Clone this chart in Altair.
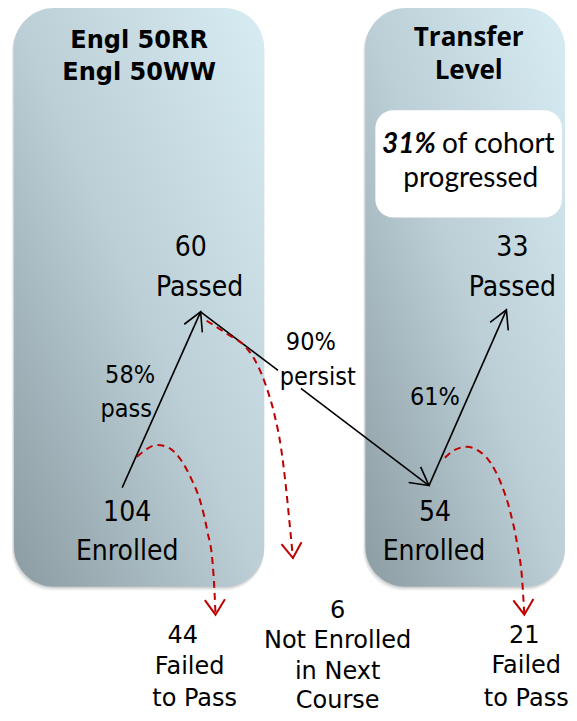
import math
import altair as alt
import pandas as pd

# ---------------- data (diagram coordinates, image pixels) ----------------
panel_x1 = [14, 368]
panel_x2 = [266, 569]
panel_y1 = [7, 7]
panel_y2 = [590, 590]

note_box = {"x1": [378], "x2": [566], "y1": [110], "y2": [218]}

title_a_text = ["Engl 50RR", "Engl 50WW"]
title_a_x = [140, 140]
title_a_y = [47, 80]

title_b_text = ["Transfer", "Level"]
title_b_x = [472, 472]
title_b_y = [45, 78]

# counts inside the panels
node_text = ["60", "Passed", "33", "Passed", "104", "Enrolled", "54", "Enrolled"]
node_x = [192, 201, 516, 516, 128, 128, 438, 437]
node_y = [257, 297, 257, 297, 524, 563, 524, 563]

# rates along the arrows
rate_text = ["58%", "pass", "90%", "persist", "61%"]
rate_x = [131, 127, 313, 320, 438]
rate_y = [385, 419, 351, 387, 407]

# drop-off counts below the panels
drop_text = ["44", "Failed", "to Pass", "6", "Not Enrolled", "in Next", "Course",
             "21", "Failed", "to Pass"]
drop_x = [184, 191, 196, 340, 340, 340, 340, 528, 530, 530]
drop_y = [647, 678, 710, 621, 652, 683, 712, 647, 677, 710]

# black flow arrows (segments; persist arrow is broken by its label)
seg_x1 = [123, 202, 303, 432]
seg_y1 = [490, 313, 390, 488]
seg_x2 = [202, 280, 432, 510]
seg_y2 = [313, 372, 488, 311]
head_from = [(123, 490), (202, 313), (432, 488)]
head_tip = [(202, 313), (432, 488), (510, 311)]

# red dashed drop-off curves
curve_left_x = [138, 148, 158, 170, 182, 193, 202, 209, 214, 216, 217]
curve_left_y = [459, 451, 447, 450, 462, 482, 505, 535, 565, 595, 618]
curve_mid_x = [208, 230, 247, 258, 268, 276, 283, 288, 292, 295]
curve_mid_y = [322, 336, 348, 364, 388, 415, 450, 490, 530, 561]
curve_right_x = [448, 458, 470, 482, 494, 505, 514, 521, 526, 528]
curve_right_y = [460, 452, 449, 453, 465, 487, 515, 548, 585, 618]

# ---------------- tables ----------------
panels = pd.DataFrame({"x1": panel_x1, "x2": panel_x2, "y1": panel_y1, "y2": panel_y2})
box = pd.DataFrame(note_box)
title_a = pd.DataFrame({"t": title_a_text, "x": title_a_x, "y": title_a_y})
title_b = pd.DataFrame({"t": title_b_text, "x": title_b_x, "y": title_b_y})
nodes = pd.DataFrame({"t": node_text, "x": node_x, "y": node_y})
rates = pd.DataFrame({"t": rate_text, "x": rate_x, "y": rate_y})
drops = pd.DataFrame({"t": drop_text, "x": drop_x, "y": drop_y})
segs = pd.DataFrame({"x1": seg_x1, "y1": seg_y1, "x2": seg_x2, "y2": seg_y2})


def angle_of(p0, p1):
    dx, dy = p1[0] - p0[0], p1[1] - p0[1]
    return math.degrees(math.atan2(dx, -dy)) % 360


heads = pd.DataFrame({
    "x": [t[0] for t in head_tip],
    "y": [t[1] for t in head_tip],
    "a": [angle_of(f, t) for f, t in zip(head_from, head_tip)],
})

curve_rows = []
red_heads = []
for name, cx, cy in [("left", curve_left_x, curve_left_y),
                     ("mid", curve_mid_x, curve_mid_y),
                     ("right", curve_right_x, curve_right_y)]:
    for i, (a, b) in enumerate(zip(cx, cy)):
        curve_rows.append({"c": name, "o": i, "x": a, "y": b})
    red_heads.append({"x": cx[-1], "y": cy[-1],
                      "a": angle_of((cx[-2], cy[-2]), (cx[-1], cy[-1]))})
curves = pd.DataFrame(curve_rows)
red_heads = pd.DataFrame(red_heads)

box_text = pd.DataFrame({"t": ["31%"], "x": [439], "y": [153]})
box_text2 = pd.DataFrame({"t": ["of cohort"], "x": [445], "y": [153]})
box_text3 = pd.DataFrame({"t": ["progressed"], "x": [474], "y": [187]})

# ---------------- scales ----------------
xs = alt.Scale(domain=[8, 569], nice=False, zero=False)
ys = alt.Scale(domain=[8, 713], nice=False, zero=False, reverse=True)


def X(f):
    return alt.X(f"{f}:Q", scale=xs, axis=None)


def Y(f):
    return alt.Y(f"{f}:Q", scale=ys, axis=None)


grad = alt.Gradient(
    gradient="linear",
    stops=[alt.GradientStop(color="#8b9ca2", offset=0),
           alt.GradientStop(color="#bccfd6", offset=0.5),
           alt.GradientStop(color="#d8ecf3", offset=1)],
    x1=0, y1=1, x2=1, y2=0,
)

layers = []
# soft shadow
for d, op in [(1, 0.10), (2, 0.08), (3, 0.06), (4, 0.05)]:
    sh = panels.assign(x1=panels.x1 - d * 0.6, y1=panels.y1 + d, y2=panels.y2 + d)
    layers.append(alt.Chart(sh).mark_rect(cornerRadius=40, color="#40484c", opacity=op)
                  .encode(x=X("x1"), x2="x2:Q", y=Y("y1"), y2="y2:Q"))

layers.append(alt.Chart(panels).mark_rect(cornerRadius=40, fill=grad)
              .encode(x=X("x1"), x2="x2:Q", y=Y("y1"), y2="y2:Q"))
layers.append(alt.Chart(box).mark_rect(cornerRadius=18, color="white", opacity=1)
              .encode(x=X("x1"), x2="x2:Q", y=Y("y1"), y2="y2:Q"))

layers.append(alt.Chart(segs).mark_rule(color="black", strokeWidth=1.6)
              .encode(x=X("x1"), y=Y("y1"), x2="x2:Q", y2="y2:Q"))
layers.append(alt.Chart(heads).mark_point(shape="M-0.55,1L0,0L0.55,1", size=1296, filled=False,
                                          color="black", strokeWidth=1.6, opacity=1)
              .encode(x=X("x"), y=Y("y"), angle=alt.Angle("a:Q", scale=None)))

layers.append(alt.Chart(curves).mark_line(color="#c00000", strokeWidth=2, strokeDash=[7, 5],
                                          interpolate="monotone")
              .encode(x=X("x"), y=Y("y"), detail="c:N", order="o:Q"))
layers.append(alt.Chart(red_heads).mark_point(shape="M-0.67,1L0,0L0.67,1", size=900, filled=False,
                                              color="#c00000", strokeWidth=2, opacity=1)
              .encode(x=X("x"), y=Y("y"), angle=alt.Angle("a:Q", scale=None)))

layers.append(alt.Chart(title_a).mark_text(font="DejaVu Sans", fontSize=24, fontWeight="bold",
                                           color="black", align="center", baseline="alphabetic")
              .encode(x=X("x"), y=Y("y"), text="t:N"))
layers.append(alt.Chart(title_b).mark_text(font="Open Sans", fontSize=26, fontWeight="bold",
                                           color="black", align="center", baseline="alphabetic")
              .encode(x=X("x"), y=Y("y"), text="t:N"))
layers.append(alt.Chart(box_text).mark_text(font="Lato", fontSize=28, fontWeight="bold",
                                            fontStyle="italic", color="black", align="right",
                                            baseline="alphabetic")
              .encode(x=X("x"), y=Y("y"), text="t:N"))
layers.append(alt.Chart(box_text2).mark_text(font="Lato", fontSize=28, color="black", align="left",
                                             baseline="alphabetic")
              .encode(x=X("x"), y=Y("y"), text="t:N"))
layers.append(alt.Chart(box_text3).mark_text(font="Lato", fontSize=28, color="black", align="center",
                                             baseline="alphabetic")
              .encode(x=X("x"), y=Y("y"), text="t:N"))
layers.append(alt.Chart(nodes).mark_text(font="DejaVu Sans Condensed", fontSize=28, color="black",
                                         align="center", baseline="alphabetic")
              .encode(x=X("x"), y=Y("y"), text="t:N"))
layers.append(alt.Chart(rates).mark_text(font="DejaVu Sans Condensed", fontSize=25, color="black",
                                         align="center", baseline="alphabetic")
              .encode(x=X("x"), y=Y("y"), text="t:N"))
layers.append(alt.Chart(drops).mark_text(font="DejaVu Sans", fontSize=24, color="black",
                                         align="center", baseline="alphabetic")
              .encode(x=X("x"), y=Y("y"), text="t:N"))

chart = alt.layer(*layers).properties(
    width=561, height=705, padding=0,
    autosize=alt.AutoSizeParams(type="fit", contains="padding"),
).configure_view(stroke=None)

chart.save("out.html", embed_options={"renderer": "svg", "actions": False})
